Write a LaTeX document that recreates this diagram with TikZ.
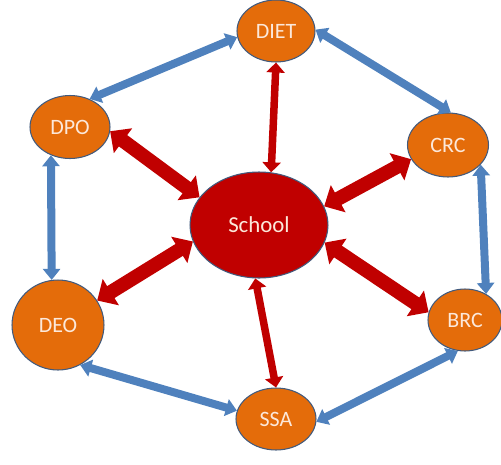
\documentclass[tikz,border=0pt]{standalone}
\usepackage{fontspec}
\setmainfont{Carlito}
\usepackage{tikz}
\usetikzlibrary{shapes.geometric,arrows.meta}
\definecolor{orgfill}{RGB}{228,108,10}
\definecolor{hubfill}{RGB}{192,0,0}
\definecolor{rimcol}{RGB}{65,90,125}
\definecolor{linkblue}{RGB}{79,129,189}
\definecolor{spokered}{RGB}{192,0,0}
\definecolor{labcol}{RGB}{252,232,218}

\begin{document}
\begin{tikzpicture}[
  x=0.02cm, y=-0.02cm,
  office/.style={draw=rimcol, line width=0.6pt, ellipse, fill=orgfill, text=labcol, inner sep=0pt, font=\fontsize{12.5}{14}\selectfont},
  hub/.style={draw=rimcol, line width=0.6pt, ellipse, fill=hubfill, text=labcol, inner sep=0pt, minimum width=2.76cm, minimum height=2.12cm, font=\fontsize{13}{15}\selectfont},
  link/.style={linkblue, line width=0.16cm, {Triangle[width=0.34cm, length=0.22cm]}-{Triangle[width=0.34cm, length=0.22cm]}},
  spoke/.style={spokered, line width=0.28cm, {Triangle[width=0.6cm, length=0.32cm]}-{Triangle[width=0.6cm, length=0.32cm]}},
  spokeT/.style={spokered, line width=0.15cm, {Triangle[width=0.36cm, length=0.2cm]}-{Triangle[width=0.36cm, length=0.2cm]}}
]
\useasboundingbox (0,0) rectangle (501,464);

% ================= NODES =================
\node[hub] (school) at (259,225) {School};
\node[office, minimum width=1.56cm, minimum height=1.24cm] (diet) at (276,31) {DIET};
\node[office, minimum width=1.6cm, minimum height=1.26cm] (dpo) at (70,127) {DPO};
\node[office, minimum width=1.62cm, minimum height=1.28cm] (crc) at (448,145) {CRC};
\node[office, minimum width=1.84cm, minimum height=1.8cm] (deo) at (58,325) {DEO};
\node[office, minimum width=1.48cm, minimum height=1.24cm] (brc) at (465,320) {BRC};
\node[office, minimum width=1.6cm, minimum height=1.24cm] (ssa) at (276,419) {SSA};

% ================= OUTER RING =================
\draw[link] (diet.189) -- (dpo.55);
\draw[link] (diet.2) -- (crc.85);
\draw[link] (crc.329) -- (brc.51);
\draw[link] (brc.257) -- (ssa.356);
\draw[link] (ssa.168) -- (deo.299);
\draw[link] (deo.98) -- (dpo.236);

% ================= SPOKES =================
\draw[spoke] (dpo.354) -- (school.155);
\draw[spoke] (school.16) -- (crc.201);
\draw[spoke] (school.194) -- (deo.32);
\draw[spoke] (school.345) -- (brc.168);
\draw[spokeT] (diet.270) -- (school.77);
\draw[spokeT] (school.266) -- (ssa.90);

\end{tikzpicture}
\end{document}
